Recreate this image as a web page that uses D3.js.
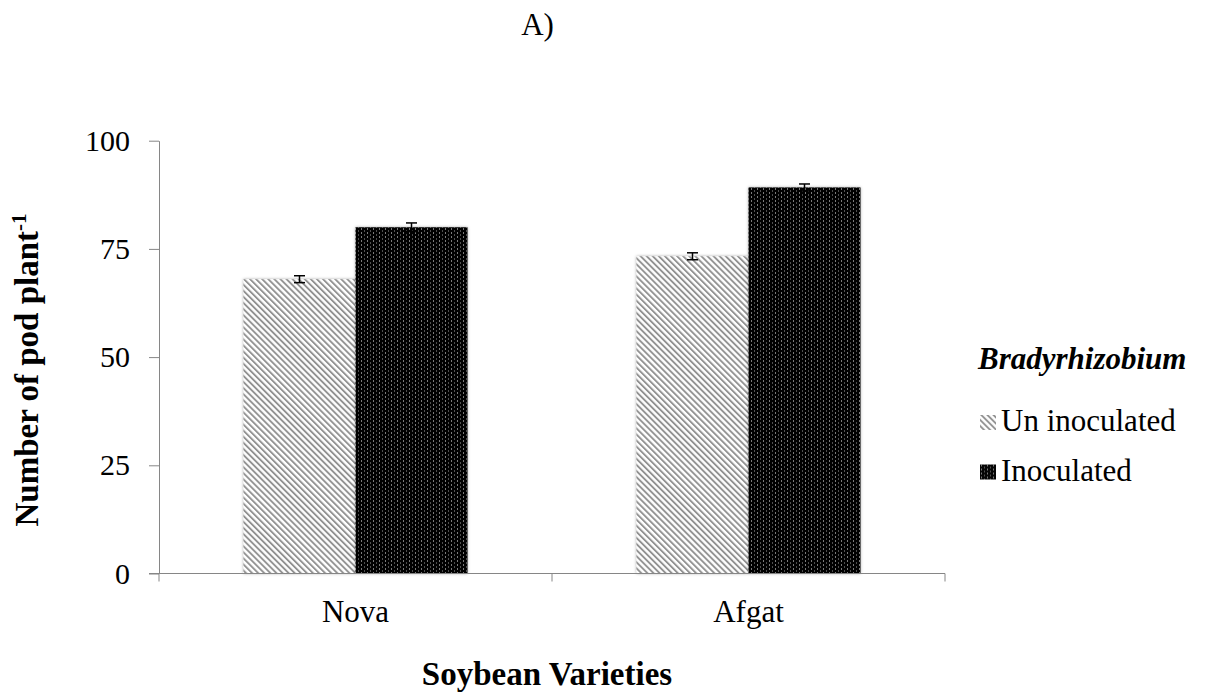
<!DOCTYPE html>
<html>
<head>
<meta charset="utf-8">
<script src="https://cdn.jsdelivr.net/npm/d3@7"></script>
<style>
  html, body { margin: 0; padding: 0; background: #fff; }
  svg { display: block; }
  svg text { font-family: "Liberation Serif", "Times New Roman", serif !important; fill: #000; }
</style>
</head>
<body>
<svg id="chart" width="1205" height="692"></svg>
<script>
// Pods per plant for two soybean varieties, with and without Bradyrhizobium
const varieties = ["Nova", "Afgat"];
const treatments = ["Un inoculated", "Inoculated"];
const unInoculated = [68.0, 73.3];
const inoculated = [80.0, 89.2];
const unInoculatedErr = [0.8, 0.8];
const inoculatedErr = [1.0, 0.8];
const yTicks = [0, 25, 50, 75, 100];

const seriesValues = [unInoculated, inoculated];
const seriesErrors = [unInoculatedErr, inoculatedErr];
const rows = [];
varieties.forEach((v, i) => {
  treatments.forEach((t, j) => {
    rows.push({ variety: v, treatment: t, value: seriesValues[j][i], err: seriesErrors[j][i] });
  });
});

const svg = d3.select("#chart");
const axisColor = "#868686";

const plot = { left: 159, right: 945, top: 140.7, bottom: 573.5 };

const x0 = d3.scaleBand().domain(varieties)
  .range([plot.left, plot.right])
  .paddingInner(0.43).paddingOuter(0.215);
const x1 = d3.scaleBand().domain(treatments).range([0, x0.bandwidth()]).padding(0);
const y = d3.scaleLinear().domain([0, 100]).range([plot.bottom, plot.top]);

// Fill patterns and a soft edge shadow
const defs = svg.append("defs");
const hatch = defs.append("pattern")
  .attr("id", "hatch").attr("patternUnits", "userSpaceOnUse")
  .attr("width", 4.3).attr("height", 4.3)
  .attr("patternTransform", "rotate(-45)");
hatch.append("rect").attr("width", 4.3).attr("height", 4.3).attr("fill", "#ffffff");
hatch.append("rect").attr("width", 1.9).attr("height", 4.3).attr("fill", "#929292");

const dots = defs.append("pattern")
  .attr("id", "dots").attr("patternUnits", "userSpaceOnUse")
  .attr("width", 6).attr("height", 4);
dots.append("rect").attr("width", 6).attr("height", 4).attr("fill", "#050505");
dots.append("rect").attr("x", 1).attr("y", 0).attr("width", 1).attr("height", 2).attr("fill", "#7a7a7a");
dots.append("rect").attr("x", 4).attr("y", 2).attr("width", 1).attr("height", 2).attr("fill", "#505050");

const shadow = defs.append("filter").attr("id", "soft")
  .attr("x", "-10%").attr("y", "-10%").attr("width", "120%").attr("height", "120%");
shadow.append("feDropShadow").attr("dx", 0).attr("dy", 0)
  .attr("stdDeviation", 1.6).attr("flood-color", "#000").attr("flood-opacity", 0.35);

const fills = { "Un inoculated": "url(#hatch)", "Inoculated": "url(#dots)" };

// Title
svg.append("text").attr("x", 537.5).attr("y", 35)
  .attr("text-anchor", "middle").attr("font-size", 31).text("A)");

// Bars
svg.append("g").selectAll("rect").data(rows).join("rect")
  .attr("x", d => x0(d.variety) + x1(d.treatment))
  .attr("y", d => y(d.value))
  .attr("width", x1.bandwidth())
  .attr("height", d => y(0) - y(d.value))
  .attr("fill", d => fills[d.treatment])
  .attr("filter", "url(#soft)");

// Error bars
const eb = svg.append("g").attr("stroke", "#000").attr("stroke-width", 1.5);
rows.forEach(d => {
  const cx = x0(d.variety) + x1(d.treatment) + x1.bandwidth() / 2;
  const yt = y(d.value + d.err), yb = y(d.value - d.err);
  eb.append("line").attr("x1", cx).attr("x2", cx).attr("y1", yt).attr("y2", yb);
  eb.append("line").attr("x1", cx - 5.5).attr("x2", cx + 5.5).attr("y1", yt).attr("y2", yt);
  eb.append("line").attr("x1", cx - 5.5).attr("x2", cx + 5.5).attr("y1", yb).attr("y2", yb);
});

// Y axis
const yAxis = svg.append("g").attr("transform", `translate(${plot.left},0)`)
  .call(d3.axisLeft(y).tickValues(yTicks).tickSize(10).tickPadding(19).tickSizeOuter(0));
yAxis.attr("font-family", null).attr("font-size", null);
yAxis.select(".domain").attr("stroke", axisColor);
yAxis.selectAll(".tick line").attr("stroke", axisColor);
yAxis.selectAll(".tick text").style("font-size", "30px");

// X axis with ticks at category boundaries
const xAxisG = svg.append("g").attr("transform", `translate(0,${plot.bottom})`);
xAxisG.append("line").attr("x1", plot.left - 10).attr("x2", plot.right)
  .attr("stroke", axisColor);
const bounds = [plot.left].concat(varieties.map(v => x0(v) + x0.bandwidth() + x0.step() * x0.paddingInner() / 2));
bounds[bounds.length - 1] = plot.right;
xAxisG.selectAll("line.tk").data(bounds).join("line").attr("class", "tk")
  .attr("x1", d => d).attr("x2", d => d).attr("y1", 0).attr("y2", 8)
  .attr("stroke", axisColor);
xAxisG.selectAll("text").data(varieties).join("text")
  .attr("x", d => x0(d) + x0.bandwidth() / 2).attr("y", 48)
  .attr("text-anchor", "middle").attr("font-size", 31).text(d => d);

// Axis titles
svg.append("text").attr("x", 547).attr("y", 685)
  .attr("text-anchor", "middle").attr("font-size", 33).attr("font-weight", "bold")
  .text("Soybean Varieties");

const yTitle = svg.append("text")
  .attr("transform", "translate(38,370) rotate(-90)")
  .attr("text-anchor", "middle").attr("font-size", 33).attr("font-weight", "bold");
yTitle.append("tspan").text("Number of pod plant");
yTitle.append("tspan").attr("font-size", 21).attr("dy", -12).text("-1");

// Legend
const legend = svg.append("g");
legend.append("text").attr("x", 978).attr("y", 369)
  .attr("font-size", 31).attr("font-weight", "bold").attr("font-style", "italic")
  .text("Bradyrhizobium");
const li = legend.selectAll("g.item").data(treatments).join("g").attr("class", "item")
  .attr("transform", (d, i) => `translate(980,${415 + i * 49.5})`);
li.append("rect").attr("width", 16).attr("height", 15).attr("fill", d => fills[d]);
li.append("text").attr("x", 21).attr("y", 16).attr("font-size", 31).text(d => d);
</script>
</body>
</html>
